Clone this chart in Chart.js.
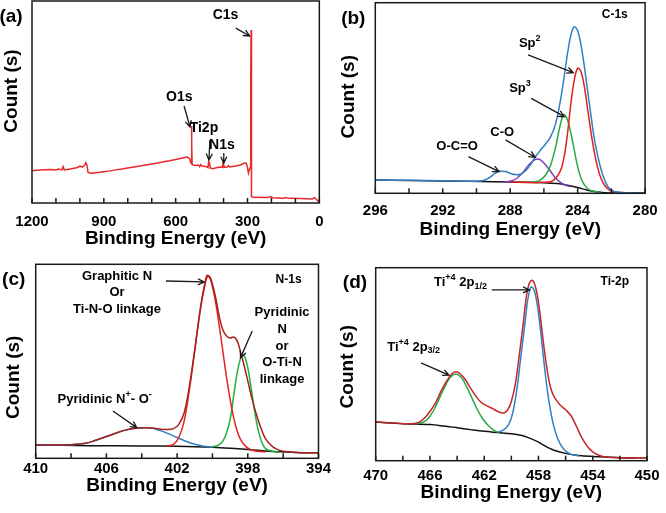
<!DOCTYPE html>
<html lang="en">
<head>
    <meta charset="UTF-8">
    <title>XPS spectra</title>
    <script src="https://cdn.jsdelivr.net/npm/chart.js"></script>
    <style>
        html, body { margin: 0; padding: 0; background: #fff; overflow: hidden; }
        .panel { position: absolute; }
        #pa { left: 0; top: 0; width: 333px; height: 256px; }
        #pb { left: 333px; top: 0; width: 333px; height: 256px; }
        #pc { left: 0; top: 256px; width: 333px; height: 257px; }
        #pd { left: 333px; top: 256px; width: 333px; height: 257px; }
    </style>
</head>
<body>
    <div class="panel" id="pa"><canvas id="chartA"></canvas></div>
    <div class="panel" id="pb"><canvas id="chartB"></canvas></div>
    <div class="panel" id="pc"><canvas id="chartC"></canvas></div>
    <div class="panel" id="pd"><canvas id="chartD"></canvas></div>

    <script>
        // [binding energy (eV), counts (arb. units, 0-100 of the frame)]
        // (a) survey
        const survey = [[1200,16.0],[1180,16.2],[1150,16.4],[1120,16.6],[1100,16.3],[1090,16.8],[1075,16.4],[1070,18.0],[1065,16.4],
            [1040,16.8],[1010,17.6],[1000,18.3],[990,17.8],[980,18.8],[975,20.0],[970,18.5],[966,15.2],[960,14.8],[950,14.7],
            [925,15.1],[900,15.5],[875,15.9],[850,16.4],[825,16.8],[800,17.3],[775,17.8],[750,18.3],[725,18.8],[700,19.3],
            [675,19.8],[650,20.4],[625,20.9],[600,21.5],[575,22.2],[555,22.8],[548,22.6],[541,21.8],[537,20.0],[535,19.6],
            [534,30.0],[533,38.1],[532,28.0],[531,19.0],[526,18.8],[515,18.6],[505,18.8],[500,18.0],[495,19.0],[490,18.3],
            [470,18.0],[465,17.5],[462,20.5],[459,19.8],[455,17.3],[445,17.0],[430,17.4],[415,17.8],[405,17.6],[401,20.5],
            [398,17.6],[385,17.8],[380,18.5],[375,17.8],[350,18.3],[330,18.8],[312,19.8],[305,19.6],[300,17.5],[296,14.8],
            [292,16.5],[288,17.8],[286.5,60],[285,85.6],[284,40],[282.5,3.1],[275,2.8],[220,2.7],[200,3.1],[195,2.6],
            [150,2.4],[140,2.7],[130,2.3],[80,2.2],[30,2.0],[20,2.6],[10,1.5],[0,0.3]];

        // (b) C-1s
        const c1sEnvelope = [[296,7.0],[294,6.8],[292,6.6],[290,6.3],[289.5,7.0],[289.2,8.4],[288.9,10.5],[288.6,11.7],[288.3,11.4],
            [288,10.5],[287.7,9.8],[287.4,10.0],[287.1,11.7],[286.8,14.9],[286.5,19.2],[286.2,22.7],[285.9,25.9],[285.6,29.7],
            [285.3,36.7],[285.0,49.8],[284.8,61.2],[284.6,73.4],[284.4,83.0],[284.2,87.4],[284.0,85.3],[283.8,77.8],[283.6,66.4],
            [283.4,53.3],[283.2,40.2],[283.0,28.0],[282.8,19.2],[282.6,12.2],[282.4,7.0],[282.2,3.5],[282.0,1.6],[281.6,0.5],
            [281,0.2],[280,0.2]];
        const c1sSp2 = [[288,5.9],[286.5,5.6],[286,5.8],[285.6,6.1],[285.3,7.9],[285.0,12.2],[284.8,19.2],[284.6,31.5],[284.4,47.2],
            [284.2,59.4],[284.0,65.6],[283.8,63.8],[283.6,55.9],[283.4,43.7],[283.2,31.5],[283.0,21.0],[282.8,13.1],[282.6,7.5],
            [282.4,4.2],[282.2,2.3],[282.0,1.2],[281.6,0.5],[281,0.2]];
        const c1sSp3 = [[287,5.8],[286.6,5.9],[286.2,7.0],[285.9,9.6],[285.6,14.9],[285.3,24.5],[285.1,33.2],[284.9,40.2],[284.8,41.4],
            [284.6,38.5],[284.4,31.5],[284.2,22.7],[284.0,14.0],[283.8,7.9],[283.6,4.4],[283.4,2.4],[283.2,1.4],[283.0,0.9],[282.6,0.3]];
        const c1sCO = [[288.4,5.9],[288,6.3],[287.6,7.9],[287.2,11.4],[286.9,14.9],[286.6,17.3],[286.4,18.0],[286.2,17.5],[285.9,14.9],
            [285.6,11.4],[285.3,7.9],[285.0,5.6],[284.7,4.2],[284.4,3.5]];
        const c1sBase = [[296,7.0],[292,6.5],[289,6.1],[287,5.8],[286,5.6],[285.2,5.1],[284.6,4.2],[284,3.0],[283.4,1.6],[283,0.9],
            [282.4,0.3],[281.5,0.2],[280,0.2]];

        // (c) N-1s
        const n1sEnvelope = [[410,6.9],[409,6.9],[408,7.0],[407.2,7.7],[406.6,9.3],[406,11.2],[405.4,13.2],[404.8,14.8],[404.2,15.6],
            [403.8,15.8],[403.4,15.6],[403.0,15.1],[402.6,14.8],[402.2,15.3],[401.9,17.5],[401.6,23.5],[401.3,37.3],[401.0,56.2],
            [400.8,69.9],[400.6,82.0],[400.4,91.4],[400.3,94.3],[400.15,93.6],[400.0,89.7],[399.8,82.0],[399.6,72.5],[399.4,66.0],
            [399.2,63.0],[399.0,62.0],[398.8,62.5],[398.6,60.5],[398.4,54.5],[398.2,47.6],[398.0,39.9],[397.8,32.1],[397.6,25.3],
            [397.3,16.7],[397.0,10.1],[396.6,6.0],[396.2,4.1],[395.6,3.3],[395,2.9],[394,2.9]];
        const n1sGraphitic = [[402.6,6.2],[402.2,7.2],[401.9,10.7],[401.6,19.2],[401.3,35.6],[401.0,55.3],[400.8,69.1],[400.6,81.1],
            [400.4,90.5],[400.3,93.5],[400.15,93.0],[400.0,88.5],[399.8,79.4],[399.6,67.4],[399.4,54.5],[399.2,41.6],[399.0,30.4],
            [398.8,21.0],[398.6,14.1],[398.4,9.5],[398.1,6.0],[397.8,4.3],[397.4,3.6],[397.0,3.3]];
        const n1sPyridinic = [[400.0,6.0],[399.6,7.0],[399.3,10.7],[399.0,20.1],[398.8,32.1],[398.6,44.2],[398.4,51.9],[398.3,53.3],
            [398.15,51.9],[398.0,46.7],[397.8,35.6],[397.6,23.5],[397.4,14.1],[397.2,8.1],[397.0,5.0],[396.6,3.6],[396.2,3.1]];
        const n1sOxide = [[410,6.9],[408,7.0],[407.2,7.7],[406.6,9.3],[406,11.2],[405.4,13.2],[404.8,14.8],[404.2,15.6],[403.8,15.8],
            [403.4,15.5],[403.0,14.4],[402.5,12.7],[402.0,10.7],[401.5,8.8],[401.0,7.2],[400.5,6.2],[400.0,5.7]];
        const n1sBase = [[410,6.9],[407,6.5],[404,6.4],[402,6.2],[400,5.7],[399,5.2],[398,4.5],[397,3.8],[396,3.3],[395,2.9],[394,2.9]];

        // (d) Ti-2p
        const ti2pEnvelope = [[470,20.0],[469,19.7],[468,19.2],[467.3,19.2],[466.8,20.0],[466.4,22.1],[466.0,25.5],[465.6,29.8],
            [465.2,35.8],[464.8,40.9],[464.4,44.9],[464.1,46.1],[463.8,45.2],[463.4,42.1],[463.0,37.5],[462.6,33.2],[462.2,30.1],
            [461.8,28.4],[461.4,27.1],[461.0,25.5],[460.6,24.7],[460.3,26.0],[460.0,30.7],[459.7,40.1],[459.4,55.5],[459.1,72.6],
            [458.9,84.6],[458.7,91.4],[458.5,93.5],[458.3,91.8],[458.1,86.3],[457.9,77.0],[457.7,65.0],[457.5,53.8],[457.3,44.5],
            [457.1,37.7],[456.8,32.5],[456.4,28.9],[456.0,26.4],[455.6,23.3],[455.2,17.8],[454.8,11.8],[454.4,7.5],[454.0,4.6],
            [453.5,2.7],[453.0,1.9],[452,1.5],[450,1.5]];
        const ti2pHigh = [[461.0,14.7],[460.6,15.8],[460.2,18.7],[459.9,24.7],[459.6,36.6],[459.3,53.8],[459.0,70.9],[458.8,82.9],
            [458.6,89.4],[458.5,90.1],[458.3,88.0],[458.1,81.2],[457.9,70.9],[457.7,58.0],[457.5,45.2],[457.3,34.1],[457.1,25.5],
            [456.9,18.7],[456.6,11.8],[456.3,7.5],[456.0,5.0],[455.6,3.3],[455.0,2.4]];
        const ti2pLow = [[467.0,19.2],[466.5,19.9],[466.1,22.1],[465.7,26.4],[465.3,32.4],[464.9,38.4],[464.5,43.2],[464.1,44.9],
            [463.7,43.2],[463.3,38.4],[462.9,32.4],[462.5,26.4],[462.1,21.6],[461.7,18.2],[461.3,15.8],[461.0,14.7]];
        const ti2pBase = [[470,20.0],[468,19.2],[466,18.7],[465,18.0],[464,17.1],[463,16.1],[462,15.2],[461,14.6],[460,14.0],
            [459.3,13.2],[458.7,11.8],[458,9.6],[457.4,7.2],[456.8,5.3],[456,3.8],[455,2.7],[454,2.2],[453,1.9],[452,1.5],[450,1.5]];

        const FONT = '"Liberation Sans", Arial, sans-serif';

        function pts(arr) {
            return arr.map(p => ({ x: p[0], y: p[1] }));
        }

        // draws a label with superscripts / subscripts, centred on (x, y)
        function richText(ctx, parts, x, y, size) {
            const big = 'bold ' + size + 'px ' + FONT;
            const small = 'bold ' + Math.round(size * 0.68) + 'px ' + FONT;
            let w = 0;
            const items = parts.map(p => {
                let s;
                if (typeof p === 'string') s = { t: p, f: big, dy: 0 };
                else if (p.sup) s = { t: p.sup, f: small, dy: -size * 0.35 };
                else s = { t: p.sub, f: small, dy: size * 0.3 };
                ctx.font = s.f;
                s.w = ctx.measureText(s.t).width;
                w += s.w;
                return s;
            });
            let cx = x - w / 2;
            ctx.textAlign = 'left';
            ctx.textBaseline = 'middle';
            items.forEach(s => {
                ctx.font = s.f;
                ctx.fillText(s.t, cx, y + s.dy);
                cx += s.w;
            });
        }

        function arrow(ctx, x1, y1, x2, y2) {
            const ang = Math.atan2(y2 - y1, x2 - x1);
            const h = 7;
            ctx.beginPath();
            ctx.moveTo(x1, y1);
            ctx.lineTo(x2, y2);
            ctx.moveTo(x2 - h * Math.cos(ang - 0.45), y2 - h * Math.sin(ang - 0.45));
            ctx.lineTo(x2, y2);
            ctx.lineTo(x2 - h * Math.cos(ang + 0.45), y2 - h * Math.sin(ang + 0.45));
            ctx.stroke();
        }

        // frame, inward ticks, panel letter, y title and annotations
        const panelPlugin = {
            id: 'panel',
            afterDatasetsDraw(chart, args, o) {
                const ctx = chart.ctx;
                const a = chart.chartArea;
                const x = chart.scales.x;
                const y = chart.scales.y;
                ctx.save();
                ctx.strokeStyle = '#1a1a1a';
                ctx.fillStyle = '#000';
                ctx.lineWidth = 1.5;
                ctx.strokeRect(a.left, a.top, a.right - a.left, a.bottom - a.top);
                for (let v = x.min; v <= x.max + 1e-9; v += o.minor) {
                    const px = x.getPixelForValue(v);
                    ctx.beginPath();
                    ctx.moveTo(px, a.bottom);
                    ctx.lineTo(px, a.bottom - 5);
                    ctx.stroke();
                }
                richText(ctx, [o.letter], a.left + o.letterPos[0], a.top + o.letterPos[1], 19);

                ctx.save();
                ctx.translate(a.left + o.yTitlePos[0], a.top + o.yTitlePos[1]);
                ctx.rotate(-Math.PI / 2);
                richText(ctx, ['Count (s)'], 0, 0, 19);
                ctx.restore();

                ctx.lineWidth = 1.3;
                o.arrows.forEach(ar => {
                    arrow(ctx, x.getPixelForValue(ar[0]), y.getPixelForValue(ar[1]),
                        x.getPixelForValue(ar[2]), y.getPixelForValue(ar[3]));
                });
                o.notes.forEach(n => {
                    richText(ctx, n.parts, x.getPixelForValue(n.x), y.getPixelForValue(n.y), n.size);
                });
                ctx.restore();
            }
        };

        function makeChart(id, cfg) {
            const datasets = cfg.series.map(s => ({
                data: pts(s.data),
                borderColor: s.color,
                borderWidth: 1.5,
                pointRadius: 0,
                tension: cfg.tension,
                fill: false
            }));
            return new Chart(document.getElementById(id), {
                type: 'line',
                data: { datasets: datasets },
                plugins: [panelPlugin],
                options: {
                    responsive: true,
                    maintainAspectRatio: false,
                    animation: false,
                    layout: { padding: cfg.pad },
                    plugins: {
                        legend: { display: false },
                        tooltip: { enabled: false },
                        panel: cfg.panel
                    },
                    scales: {
                        x: {
                            type: 'linear',
                            reverse: true,
                            min: cfg.min,
                            max: cfg.max,
                            grid: { display: false, drawTicks: false },
                            border: { display: false },
                            ticks: {
                                stepSize: cfg.step,
                                padding: cfg.tickPad,
                                color: '#000',
                                maxRotation: 0,
                                callback: v => String(v),
                                font: { family: FONT, size: 15, weight: 'bold' }
                            },
                            title: {
                                display: true,
                                text: 'Binding Energy (eV)',
                                color: '#000',
                                padding: { top: 0, bottom: cfg.titlePad },
                                font: { family: FONT, size: 19, weight: 'bold' }
                            },
                            afterFit: s => { s.height = cfg.xHeight; }
                        },
                        y: { display: false, min: 0, max: 100 }
                    }
                }
            });
        }

        makeChart('chartA', {
            min: 0, max: 1200, step: 300, tension: 0,
            pad: { left: 32, top: 1, right: 12, bottom: 0 },
            xHeight: 53, tickPad: 9.5, titlePad: 6,
            series: [{ data: survey, color: '#e8282a' }],
            panel: {
                minor: 100, letter: '(a)', letterPos: [-21, 16], yTitlePos: [-20, 90],
                arrows: [[349, 86.6, 291, 82.7], [565, 48.0, 540, 37.6], [457, 31.2, 461, 21.3], [399, 24.8, 399, 19.8]],
                notes: [
                    { x: 392, y: 93.1, parts: ['C1s'], size: 14 },
                    { x: 585, y: 52.5, parts: ['O1s'], size: 14 },
                    { x: 482, y: 37.1, parts: ['Ti2p'], size: 14 },
                    { x: 407, y: 28.7, parts: ['N1s'], size: 14 }
                ]
            }
        });

        makeChart('chartB', {
            min: 280, max: 296, step: 4, tension: 0.35,
            pad: { left: 42.3, top: 2.7, right: 13.3, bottom: 0 },
            xHeight: 62.7, tickPad: 8.4, titlePad: 14.6,
            series: [
                { data: c1sEnvelope, color: '#2f7fc4' },
                { data: c1sSp2, color: '#e0201c' },
                { data: c1sSp3, color: '#27a844' },
                { data: c1sCO, color: '#7d3bb8' },
                { data: c1sBase, color: '#111' }
            ],
            panel: {
                minor: 2, letter: '(b)', letterPos: [-22, 15.6], yTitlePos: [-27, 94],
                arrows: [[286.94, 72.6, 284.26, 63.3], [286.75, 49.8, 284.79, 40.2], [288.28, 28.0, 286.52, 18.9], [290.48, 19.2, 288.66, 11.4]],
                notes: [
                    { x: 281.8, y: 93.5, parts: ['C-1s'], size: 12 },
                    { x: 286.84, y: 78.7, parts: ['Sp', { sup: '2' }], size: 13 },
                    { x: 287.42, y: 55.1, parts: ['Sp', { sup: '3' }], size: 13 },
                    { x: 288.47, y: 31.8, parts: ['C-O'], size: 13 },
                    { x: 291.15, y: 24.5, parts: ['O-C=O'], size: 13 }
                ]
            }
        });

        makeChart('chartC', {
            min: 394, max: 410, step: 4, tension: 0.35,
            pad: { left: 35.7, top: 8.3, right: 13, bottom: 0 },
            xHeight: 54.7, tickPad: 2, titlePad: 15.6,
            series: [
                { data: n1sEnvelope, color: '#a8201e' },
                { data: n1sGraphitic, color: '#e32420' },
                { data: n1sPyridinic, color: '#1fae3c' },
                { data: n1sOxide, color: '#2f7fc4' },
                { data: n1sBase, color: '#111' }
            ],
            panel: {
                minor: 2, letter: '(c)', letterPos: [-22, 15], yTitlePos: [-22.4, 113],
                arrows: [[402.63, 91.4, 400.47, 90.9], [397.75, 65.6, 398.41, 51.9], [405.63, 24.4, 404.28, 15.8]],
                notes: [
                    { x: 405.4, y: 94.0, parts: ['Graphitic N'], size: 13 },
                    { x: 405.4, y: 85.4, parts: ['Or'], size: 13 },
                    { x: 405.4, y: 76.8, parts: ['Ti-N-O linkage'], size: 13 },
                    { x: 395.69, y: 92.3, parts: ['N-1s'], size: 12 },
                    { x: 396.06, y: 75.1, parts: ['Pyridinic'], size: 13 },
                    { x: 396.06, y: 66.5, parts: ['N'], size: 13 },
                    { x: 396.06, y: 57.9, parts: ['or'], size: 13 },
                    { x: 396.06, y: 49.3, parts: ['O-Ti-N'], size: 13 },
                    { x: 396.06, y: 40.7, parts: ['linkage'], size: 13 },
                    { x: 406.1, y: 30.4, parts: ['Pyridinic N', { sup: '+' }, '- O', { sup: '-' }], size: 13 }
                ]
            }
        });

        makeChart('chartD', {
            min: 450, max: 470, step: 4, tension: 0.35,
            pad: { left: 42.7, top: 11.7, right: 15.3, bottom: 0 },
            xHeight: 52.3, tickPad: 6.5, titlePad: 8.6,
            series: [
                { data: ti2pEnvelope, color: '#c3262b' },
                { data: ti2pHigh, color: '#2f7fc4' },
                { data: ti2pLow, color: '#27a844' },
                { data: ti2pBase, color: '#111' }
            ],
            panel: {
                minor: 2, letter: '(d)', letterPos: [-20.7, 15], yTitlePos: [-27.7, 99],
                arrows: [[461.45, 88.5, 458.67, 88.5], [466.66, 50.7, 464.6, 44.3]],
                notes: [
                    { x: 463.75, y: 92.3, parts: ['Ti', { sup: '+4' }, ' 2p', { sub: '1/2' }], size: 13 },
                    { x: 452.37, y: 92.8, parts: ['Ti-2p'], size: 12 },
                    { x: 467.2, y: 58.9, parts: ['Ti', { sup: '+4' }, ' 2p', { sub: '3/2' }], size: 13 }
                ]
            }
        });
    </script>
</body>
</html>
